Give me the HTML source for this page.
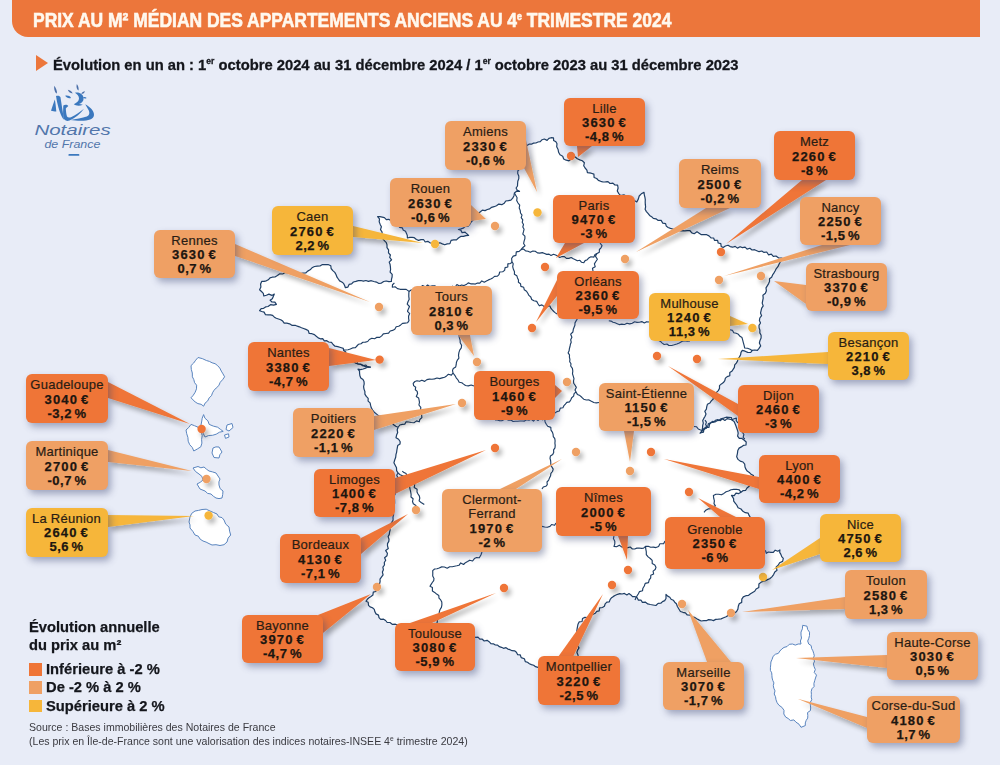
<!DOCTYPE html>
<html><head><meta charset="utf-8">
<style>
*{margin:0;padding:0;box-sizing:border-box}
html,body{width:1000px;height:765px;overflow:hidden;background:#e8ecf7;font-family:"Liberation Sans",sans-serif}
#hdr{position:absolute;left:12px;top:0;width:968px;height:37px;background:#ec763b;border-bottom-left-radius:16px}
#hdr span{position:absolute;left:21.3px;top:7.8px;font-weight:bold;font-size:20px;color:#fff8ee;-webkit-text-stroke:0.6px #fff8ee;white-space:nowrap;transform-origin:0 0;transform:scaleX(0.873);line-height:24px}
#sub{position:absolute;left:53px;top:54.8px;font-weight:bold;font-size:15.5px;color:#14161c;-webkit-text-stroke:0.3px #14161c;white-space:nowrap;transform-origin:0 0;transform:scaleX(0.952);line-height:20px}
#tri{position:absolute;left:35.8px;top:54.8px;width:0;height:0;border-top:8.7px solid transparent;border-bottom:8.7px solid transparent;border-left:12.3px solid #ec763b}
svg{position:absolute;left:0;top:0}
.lb{position:absolute;border-radius:6px;box-shadow:3px 4px 7px rgba(60,70,115,.42);text-align:center;color:#1d1610;display:flex;flex-direction:column;justify-content:center;padding-top:2.2px}
.lb.d{background:#ef7537} .lb.l{background:#efa064} .lb.y{background:#f6b63a}
.lb .n{font-size:13px;line-height:14.2px;letter-spacing:0.25px;color:#2a1d14;height:14.2px;-webkit-text-stroke:0.2px #2a1d14}
.lb .q{letter-spacing:0.55px !important}
.lb .p{font-size:13px;line-height:14.2px;font-weight:bold;letter-spacing:1.15px;word-spacing:-1.8px;height:14.2px;-webkit-text-stroke:0.25px #1d1610}
#leg{position:absolute;left:29px;top:618.2px;font-weight:bold;font-size:15px;line-height:18px;color:#14161c;-webkit-text-stroke:0.25px #14161c;transform-origin:0 0;transform:scaleX(0.98)}
.sw{position:absolute;left:28.5px;width:13.5px;height:12.5px}
.lt{position:absolute;left:46px;font-weight:bold;font-size:15.5px;color:#14161c;-webkit-text-stroke:0.25px #14161c;white-space:nowrap;line-height:18px;transform-origin:0 0;transform:scaleX(0.95)}
#src{position:absolute;left:29px;top:721.3px;font-size:11px;line-height:13.6px;color:#3a3a40;white-space:nowrap;transform-origin:0 0;transform:scaleX(0.96)}
</style></head><body>
<div id="hdr"><span>PRIX AU M² MÉDIAN DES APPARTEMENTS ANCIENS AU 4<sup style="font-size:10px;vertical-align:7px;line-height:0">e</sup> TRIMESTRE 2024</span></div>
<div id="tri"></div>
<div id="sub">Évolution en un an : 1<sup style="font-size:9px;vertical-align:6px;line-height:0">er</sup> octobre 2024 au 31 décembre 2024 / 1<sup style="font-size:9px;vertical-align:6px;line-height:0">er</sup> octobre 2023 au 31 décembre 2023</div>
<svg width="90" height="80" viewBox="0 0 90 80" style="left:25px;top:80px">
<g fill="#3b78be">
<path d="M29.2,5.8 C31,8 32.2,11 31.9,13.6 C30.2,13 28.9,10 29.2,5.8Z" fill="#4a6ea8"/>
<path d="M31,16 C33,15.2 35,15.8 35.5,17.5 L39,39.8 C37.2,38.5 35,33 33.6,28 C32.5,24 31.5,20 31,16Z"/>
<path d="M29.8,19.5 C30.5,23 31,27.5 31.3,31.6 C29.5,31.6 27.5,31.2 26,30.8 C27.3,27 28.5,23 29.8,19.5Z"/>
<path d="M51.8,4 C53.3,6 54,8.5 53.5,10.6 C51.8,9.6 51,7 51.8,4Z" fill="#4a6ea8"/>
<path d="M42.8,9.8 C45,10 47,11.5 47.6,13.4 C45.5,13.4 43.6,12 42.8,9.8Z" fill="#4a6ea8"/>
<path d="M56.2,13.8 C57,12 58.5,11.2 60,11.2 C59.5,13 58,14 56.2,13.8Z" fill="#4a6ea8"/>
<path d="M40.2,15.8 C42.5,15.2 45,16 46,18 C43.8,18.8 41.5,18 40.2,15.8Z"/>
<path d="M58,17.3 C59.2,16.6 60.8,16.8 61.6,18 C60.5,18.9 59,18.8 58,17.3Z"/>
<path d="M50,12.8 C54.5,11.8 58.5,14.5 58.6,18.6 C58.6,21.5 56.5,23.2 54,24 C55.2,24.2 56.6,24.4 57.8,24.8 C54,26.3 50.5,25.6 48.8,24.2 C51.8,22.8 54,21.2 54,18.6 C54,16.2 52.3,14.2 50,12.8Z"/>
<path d="M38.3,25.6 C39.8,24.3 42.3,24.4 43.3,25.9 C42.3,26.8 41.3,27.5 40.8,28.5 C41,31.5 41.3,34.5 42,36.5 C43,38 44.5,37.8 46.5,37 C51,35 55,32 59,28.8 C55.5,33.5 50.5,38 44.5,40.5 C41,41.7 38.8,40 38.3,36.8 C37.9,33 38.2,29 38.3,25.6Z"/>
<path d="M60.2,24.2 C65,26.8 69.3,30.8 69,35 C68.7,39.2 63.5,40.8 56,40.8 C52,40.8 48.5,40.5 45.5,40 C50.5,39 57.5,38 61.8,36.5 C64.5,35.5 64.8,33 63.8,30.6 C62.8,28.5 61.5,26.3 60.2,24.2Z"/>
</g>
<text x="9.4" y="55.4" font-family="Liberation Sans" font-style="italic" font-size="15" fill="#5276ab" textLength="76.4" lengthAdjust="spacingAndGlyphs">Notaires</text>
<text x="19.4" y="67.5" font-family="Liberation Sans" font-style="italic" font-size="10.2" fill="#5276ab" textLength="56" lengthAdjust="spacingAndGlyphs">de France</text>
<rect x="43.4" y="74" width="11" height="1.8" rx="0.9" fill="#3b78be"/>
</svg>
<svg width="1000" height="765" viewBox="0 0 1000 765">
<defs><filter id="sh" x="-20%" y="-20%" width="140%" height="140%"><feGaussianBlur in="SourceAlpha" stdDeviation="2.5"/><feOffset dx="3" dy="4"/><feComponentTransfer><feFuncA type="linear" slope="0.3"/></feComponentTransfer><feMerge><feMergeNode/><feMergeNode in="SourceGraphic"/></feMerge></filter></defs>
<polygon points="527.0,145.5 529.0,144.2 531.4,144.2 533.5,143.1 535.9,143.0 538.0,142.0 540.3,141.7 542.1,139.7 544.3,139.0 547.1,140.4 548.9,138.4 551.1,137.7 553.5,137.8 553.6,140.4 555.9,141.8 557.0,143.8 556.7,146.8 558.1,149.5 558.6,152.3 560.0,154.8 562.7,156.2 563.7,159.0 566.2,160.2 569.0,160.8 571.8,158.8 573.0,155.7 575.3,157.0 577.3,158.8 579.8,159.9 582.3,160.8 584.4,162.7 583.7,165.8 585.1,168.0 586.9,170.1 587.4,172.7 591.2,173.2 593.9,174.1 594.1,177.5 596.7,178.5 598.4,180.4 600.7,181.3 603.1,182.0 605.5,181.9 608.0,181.6 610.0,183.5 612.9,183.1 614.9,185.0 617.6,185.2 618.1,188.0 617.3,191.0 618.8,193.6 620.7,195.6 623.9,194.9 626.1,196.0 628.0,198.0 630.5,198.3 631.9,201.1 634.7,200.8 636.8,202.0 638.3,199.1 639.2,196.0 641.3,193.8 644.0,192.4 644.3,194.8 644.9,197.2 645.3,199.6 645.2,202.0 645.3,204.4 645.6,206.8 645.1,209.3 646.4,211.6 648.0,213.4 649.6,215.4 651.6,216.7 653.3,218.4 656.0,218.8 658.2,220.4 661.2,220.4 662.8,223.2 665.6,223.6 666.3,226.1 668.1,227.5 670.4,228.4 672.8,229.0 675.1,229.7 677.7,228.9 679.9,230.9 682.4,230.6 684.8,230.8 687.3,230.6 689.8,230.5 691.8,232.9 694.2,233.7 697.0,231.7 699.2,233.2 701.4,234.7 704.1,234.6 706.7,234.7 709.0,235.9 711.0,237.9 713.6,238.0 714.5,240.3 717.6,240.4 718.2,243.0 720.8,243.6 721.2,246.4 723.2,247.6 725.4,246.0 728.0,245.2 730.2,246.6 732.6,247.2 735.2,246.4 737.4,248.1 740.1,246.7 742.4,247.6 745.1,247.1 747.1,249.1 749.9,248.2 752.0,250.0 754.6,249.7 756.8,250.7 759.1,251.7 761.8,251.0 764.0,252.4 766.7,252.0 768.5,254.8 771.3,254.1 773.3,256.4 776.0,256.0 778.7,258.0 782.0,258.0 781.3,260.3 780.0,262.4 778.9,264.5 777.9,266.7 776.3,268.6 775.2,270.8 774.0,272.9 772.6,274.9 771.6,277.2 769.5,278.8 769.5,281.4 768.6,283.6 767.4,285.6 766.0,287.9 766.4,290.8 765.4,293.3 762.9,295.2 763.2,298.1 762.7,300.6 762.2,303.1 763.2,305.9 761.7,308.2 761.1,310.7 760.5,313.1 761.6,315.7 759.8,318.0 759.4,320.4 760.5,323.0 759.0,325.3 759.1,327.9 759.9,330.3 759.8,332.9 761.1,335.3 761.1,337.9 760.0,340.4 759.4,343.0 760.7,345.9 759.0,348.3 757.4,350.4 754.6,350.0 752.2,350.4 750.7,352.5 747.7,352.4 745.1,351.2 742.3,350.4 741.0,352.4 740.6,354.8 739.5,356.9 738.1,358.8 737.5,361.1 736.3,363.1 734.7,364.9 734.4,367.4 733.1,369.4 731.8,371.3 729.8,372.6 729.8,375.7 727.2,376.6 725.4,378.1 724.8,380.6 723.4,382.6 721.4,383.9 719.5,385.6 719.5,388.4 718.3,390.6 716.5,392.4 715.1,394.4 713.3,396.2 713.2,399.1 711.3,400.9 709.9,403.0 707.4,404.3 706.7,406.9 706.4,409.2 704.8,411.3 706.0,414.0 705.1,416.2 703.8,418.4 702.7,420.6 703.3,423.1 702.7,425.4 702.5,428.2 701.9,430.9 700.1,433.2 701.9,431.5 703.0,429.1 705.9,428.5 707.7,426.8 708.3,423.9 710.6,422.7 712.5,421.4 715.0,421.9 717.0,420.7 719.2,420.3 721.0,418.8 723.6,418.1 726.1,417.2 728.8,417.3 731.5,417.5 731.9,419.9 734.1,421.4 735.0,423.6 735.9,425.8 736.7,428.0 737.6,430.5 738.2,433.1 737.6,436.1 739.3,438.4 741.9,438.4 744.0,440.0 746.2,442.0 746.0,445.0 743.3,445.4 741.3,446.9 739.1,448.1 737.8,450.5 737.4,453.6 736.7,456.7 738.0,459.4 740.2,461.1 743.0,462.0 744.7,464.2 745.0,467.0 745.9,469.2 747.2,471.1 749.3,472.4 751.1,474.3 753.5,475.6 752.9,478.2 752.4,480.8 751.5,482.9 750.0,484.6 748.9,486.6 747.0,488.0 745.7,490.3 742.9,490.7 741.0,492.3 738.8,493.6 736.0,493.1 734.2,495.7 731.5,495.4 733.6,498.6 733.7,501.2 735.2,503.1 736.7,505.0 738.1,507.8 741.0,509.0 742.9,511.3 745.3,512.7 748.2,513.2 749.1,515.4 750.3,517.4 752.4,519.1 751.6,522.1 754.0,523.7 754.6,526.0 754.7,528.6 756.0,530.6 757.2,532.7 758.0,535.0 757.9,537.5 759.6,539.2 761.1,540.9 762.3,542.9 761.8,545.6 763.6,547.2 763.8,549.5 765.7,551.1 766.3,553.3 768.4,552.0 770.9,552.3 773.3,552.4 775.2,550.2 777.8,551.2 779.9,549.9 779.7,552.4 780.9,554.4 781.7,556.6 783.3,558.4 782.6,561.4 779.6,562.7 778.2,565.2 776.2,567.0 777.0,570.3 774.8,572.0 773.6,574.6 771.9,576.9 769.7,578.8 767.5,579.6 765.5,580.6 763.4,581.3 761.2,582.1 758.9,584.0 758.8,587.5 756.1,589.0 754.7,591.3 752.6,592.5 750.5,593.8 748.6,595.3 745.9,595.7 743.3,596.9 741.8,599.1 741.7,602.4 739.2,603.7 738.3,606.3 737.9,609.1 736.6,611.5 734.7,613.0 732.6,614.0 730.1,614.3 728.1,615.5 726.1,616.8 723.6,617.8 721.1,618.9 718.4,619.2 715.7,619.4 713.4,620.6 711.0,619.8 708.6,619.6 706.3,620.7 703.9,620.7 701.2,621.0 698.9,619.9 696.7,618.7 694.5,617.3 692.1,616.8 690.1,615.1 687.3,615.0 685.4,612.9 682.9,612.3 680.4,611.5 678.9,609.0 677.4,606.5 676.4,603.7 674.7,602.2 673.3,600.2 671.1,599.3 669.8,597.2 667.7,596.1 666.0,594.5 666.0,598.5 664.7,600.6 662.5,601.6 660.8,603.2 658.1,603.3 655.9,605.5 653.0,605.0 650.3,604.5 647.7,603.9 645.3,602.1 642.4,602.4 641.1,600.2 638.4,600.2 637.2,597.8 635.2,596.7 632.5,596.6 630.9,594.9 629.0,593.6 626.9,594.9 624.4,593.4 622.1,594.0 619.8,593.7 617.6,594.3 615.4,595.3 613.4,596.4 611.6,597.7 610.2,599.4 609.3,601.8 606.8,602.2 605.2,603.8 604.4,606.3 602.4,607.5 599.6,607.8 599.2,610.8 596.7,611.4 595.2,613.3 593.2,614.3 590.3,613.5 589.1,616.1 587.3,617.5 584.8,617.4 582.5,618.5 582.1,621.5 579.1,621.9 578.0,624.2 577.5,626.6 577.1,628.9 576.8,631.3 577.8,633.7 577.2,636.0 579.2,638.4 577.3,640.8 578.0,643.2 577.4,645.5 579.0,647.9 577.4,650.3 576.9,652.6 578.0,655.0 578.3,657.5 576.9,659.4 575.6,661.3 574.2,663.2 574.9,665.8 574.3,668.0 573.4,670.1 572.0,672.0 569.8,672.0 567.5,671.9 565.4,673.2 563.2,673.5 561.0,673.8 558.9,674.2 556.6,674.3 554.5,675.5 552.2,674.7 550.0,675.0 548.5,672.7 545.7,672.8 544.1,670.9 541.3,671.0 539.9,668.6 537.9,667.3 535.5,666.7 533.7,665.3 531.4,664.6 529.4,663.7 527.5,662.3 525.3,661.6 524.4,658.7 521.2,657.6 520.2,654.8 517.7,654.7 516.4,652.2 514.6,650.8 512.1,650.7 510.0,649.7 507.9,649.1 506.0,647.7 503.5,648.3 501.5,647.3 499.4,646.7 497.6,645.1 495.3,645.0 493.4,643.8 490.9,643.6 489.1,641.7 487.1,640.3 484.2,641.0 482.3,639.2 479.8,639.1 478.0,637.2 475.4,637.3 473.2,636.6 470.9,637.0 468.6,636.7 466.3,636.7 464.3,635.1 462.1,634.9 459.7,634.9 457.6,634.0 455.4,633.6 453.4,632.0 450.9,633.2 449.1,630.6 446.6,631.4 444.5,630.7 442.2,630.5 440.0,630.0 437.9,628.8 435.6,628.6 433.3,629.0 431.1,628.9 428.9,628.0 426.7,627.3 424.4,628.2 422.2,627.1 420.1,626.2 417.7,627.2 415.4,627.5 413.2,627.2 411.1,625.7 408.8,625.5 406.7,624.5 404.4,624.4 402.0,625.7 399.8,625.6 397.5,625.1 395.4,624.2 392.5,624.4 390.0,622.5 387.2,622.5 385.6,620.5 383.6,619.2 380.7,619.4 379.0,617.6 378.5,615.1 376.0,613.9 374.9,611.8 374.3,609.4 372.5,607.8 370.1,606.9 368.5,605.3 368.2,602.3 366.0,601.3 367.3,599.3 369.0,597.8 371.0,596.5 372.9,595.1 373.3,592.2 375.8,591.5 376.6,588.8 378.1,586.4 379.5,584.0 380.1,581.6 380.0,579.1 381.6,576.9 383.1,574.8 382.4,572.1 383.4,569.8 382.9,567.1 384.5,565.0 384.3,562.5 385.7,560.3 384.6,557.7 387.0,555.7 387.4,553.3 385.7,550.6 388.3,548.6 387.5,546.0 387.5,543.6 388.8,541.4 389.0,539.1 388.1,536.6 389.3,534.4 389.6,532.0 390.2,529.8 389.1,527.3 390.0,525.0 391.6,522.6 393.1,520.1 393.0,517.0 393.6,514.8 393.4,512.5 392.5,510.2 393.7,508.0 393.4,505.7 394.6,503.5 394.6,501.3 394.5,499.0 393.7,496.7 395.0,494.5 395.2,492.3 395.0,490.0 394.6,487.4 396.9,485.3 396.7,482.8 395.7,480.1 398.2,478.1 396.7,475.3 398.0,473.0 396.6,470.6 396.5,467.7 395.2,465.3 393.9,462.8 394.7,460.0 395.7,457.3 396.0,454.4 396.6,452.3 396.9,450.0 397.3,447.8 397.7,445.6 400.0,444.1 400.2,441.8 398.6,439.3 396.0,437.7 396.6,435.1 397.7,432.6 397.2,429.8 398.1,427.2 395.7,426.3 393.7,424.7 391.8,423.0 390.2,421.0 387.0,421.6 385.5,419.4 383.1,418.8 381.7,416.4 379.1,416.1 377.2,414.6 374.6,412.6 372.6,410.0 371.3,407.8 370.6,405.4 370.1,402.9 368.1,401.1 368.2,398.3 366.3,396.4 364.9,394.1 364.9,391.5 364.0,389.1 363.6,386.6 364.2,383.9 364.0,381.5 363.0,379.5 360.8,377.9 359.9,375.8 359.6,373.5 359.5,371.1 358.0,369.2 360.6,369.6 363.1,369.0 365.5,368.2 367.9,366.7 370.5,367.2 367.9,366.8 365.3,366.7 363.0,365.2 360.5,364.5 358.0,364.0 355.7,363.3 354.0,361.8 353.0,359.4 350.1,359.6 349.5,356.7 347.8,355.1 345.4,354.6 345.8,352.1 343.7,350.5 343.3,348.3 340.6,347.5 337.8,346.7 335.0,346.2 333.1,344.5 331.5,342.4 328.7,342.0 326.8,340.7 324.3,340.8 322.7,338.7 320.3,338.8 318.2,337.9 316.3,336.3 314.4,334.6 312.0,333.7 309.2,333.5 308.2,330.5 305.9,329.4 303.6,328.5 301.5,327.7 299.4,326.8 297.3,326.2 295.2,325.3 292.2,325.4 289.6,323.8 286.8,323.2 284.2,323.2 282.7,321.1 280.7,319.7 278.5,319.0 276.3,318.3 274.4,317.2 272.6,315.4 270.5,314.8 268.0,314.9 265.5,314.7 264.1,312.1 261.8,311.5 259.6,310.7 261.2,308.6 263.6,308.3 265.6,306.9 268.0,306.5 270.5,304.7 273.6,305.2 276.4,304.4 274.9,302.1 271.9,302.0 270.1,300.2 272.3,298.7 273.3,296.4 274.3,294.0 271.9,295.4 268.9,294.1 266.4,295.2 263.8,296.0 263.3,293.3 261.5,291.5 259.6,289.7 260.9,287.1 260.6,284.1 261.7,281.4 264.1,281.3 266.3,280.8 268.3,279.8 270.0,277.9 272.2,277.2 275.0,277.0 277.4,275.6 279.8,273.8 282.7,274.0 285.1,272.6 287.5,272.6 289.9,272.7 292.4,272.5 294.9,273.2 297.3,273.0 300.1,273.5 302.9,273.1 305.7,273.0 307.7,271.1 310.1,269.8 312.0,267.8 314.5,266.5 317.2,266.1 320.0,266.0 322.4,264.6 325.2,264.7 328.1,264.5 330.8,265.7 331.1,268.5 332.8,270.6 334.8,272.4 336.1,274.7 337.0,277.2 338.3,279.0 339.6,280.9 341.8,282.0 343.6,283.4 344.6,285.5 345.4,287.7 347.9,287.1 349.1,284.4 351.6,283.8 353.4,282.0 355.9,281.4 358.4,280.6 360.9,280.5 363.4,281.1 365.9,280.5 368.4,281.4 371.3,280.7 373.8,281.5 376.4,282.1 378.9,283.5 381.4,283.1 383.7,281.5 386.2,281.0 388.9,281.7 391.4,281.4 391.5,279.2 392.1,277.0 392.2,274.4 390.1,272.1 390.6,269.5 390.4,266.9 390.1,264.5 389.2,262.1 391.6,259.8 389.7,257.4 390.4,255.0 388.5,252.8 388.6,249.9 387.0,247.6 387.0,244.8 386.3,242.6 384.6,240.9 383.1,239.1 381.9,237.2 381.9,234.6 382.1,232.0 380.5,229.6 381.4,226.8 380.2,224.4 379.2,221.9 379.5,218.9 377.6,216.7 379.9,216.7 382.2,217.1 384.4,217.7 386.3,219.6 388.7,219.3 390.7,220.5 393.1,220.7 395.0,222.0 397.5,222.6 398.4,225.3 399.7,227.3 402.3,227.8 403.1,229.9 405.5,231.3 406.5,233.4 407.3,235.5 407.4,238.0 409.8,237.4 412.1,237.4 414.3,237.7 416.4,239.5 418.6,240.4 421.0,239.7 423.5,239.5 425.2,242.0 427.8,241.3 429.9,242.7 432.1,243.5 434.6,243.0 437.0,244.6 439.9,242.7 442.3,243.9 444.8,244.8 447.2,243.9 449.9,243.6 451.1,240.4 453.6,239.8 456.5,239.9 458.4,238.0 460.7,236.4 463.4,236.4 465.9,235.6 468.6,235.4 466.8,233.8 465.1,232.1 462.1,232.6 460.8,230.1 458.4,229.5 461.0,228.9 463.4,228.1 465.4,226.3 468.2,226.1 470.0,224.0 471.2,222.0 472.8,220.4 473.9,218.3 476.5,217.5 477.4,215.3 478.5,213.2 480.4,211.8 482.4,210.1 485.1,210.6 487.3,209.5 489.7,208.9 491.6,207.3 494.0,206.7 496.5,205.8 498.8,204.1 501.8,204.7 504.2,203.3 505.7,201.0 508.4,200.7 510.9,200.1 512.7,198.2 514.0,195.7 514.4,193.0 516.6,191.2 519.5,191.4 517.3,190.2 516.1,188.0 517.5,186.0 517.6,183.6 517.8,181.2 518.8,178.6 518.8,176.1 517.7,173.6 517.8,171.0 519.5,169.2 519.9,167.0 519.7,164.5 520.5,162.4 520.6,160.0 522.2,158.2 524.3,156.5 523.0,153.7 524.9,151.9 524.5,149.4 525.2,147.3 527.0,145.5" fill="#fff" stroke="#1f3f66" stroke-width="1.2" stroke-linejoin="round"/>
<g fill="none" stroke="#1f3f66" stroke-width="1.15" stroke-linejoin="round"><polyline points="514.4,193.0 515.7,195.3 517.1,197.7 516.7,200.6 518.0,203.0 519.7,205.2 519.2,208.0 520.2,210.4 520.5,213.0 522.0,215.1 521.2,217.7 522.8,219.8 522.2,222.3 523.5,224.5 522.8,227.0 524.1,229.2 523.5,231.7 522.8,234.1 524.9,236.2 524.9,238.6 524.1,241.1 523.6,243.5 525.0,245.7 522.9,247.5 521.0,249.6 519.2,251.4 516.3,251.9 515.9,255.4 513.2,256.1 511.6,258.5 511.9,261.4"/><polyline points="511.9,261.4 510.8,263.5 507.8,263.9 507.8,267.0 505.1,267.6 504.6,270.4 502.7,271.8 499.7,272.0 499.0,274.6 497.2,276.3 494.6,276.4 492.7,277.9 490.7,279.0 488.5,279.9 486.4,281.0 484.3,282.2 481.8,280.9 479.8,283.1 477.5,283.1 475.3,284.1 473.0,283.8 470.7,283.8 468.2,282.9 466.2,284.6 464.0,285.6 461.6,285.0 459.4,286.0 456.9,284.5 455.0,287.3 452.5,286.2 450.3,287.2 447.9,286.9 445.8,288.1 443.4,287.5 441.2,288.4 438.9,287.8 436.8,286.9 434.7,285.7 432.2,285.9 429.6,286.5 427.6,285.0 425.6,286.9 422.6,285.5 420.6,287.4 418.6,289.0 415.6,287.9 413.6,289.6 411.1,290.0 409.0,291.4 406.2,289.4 402.8,289.3 400.1,289.3 397.5,288.6 395.1,286.8 392.3,287.2 392.5,284.7 394.4,283.0"/><polyline points="409.0,291.4 408.8,294.0 408.8,296.6 409.2,299.3 408.0,301.8 407.2,304.2 409.5,306.5 408.4,308.9 407.5,311.3 409.7,313.6 408.6,316.0 408.6,318.4 409.0,320.7 407.5,322.8 405.0,323.1 402.5,323.4 400.7,324.9 398.7,326.2 396.2,326.8 394.8,329.3 392.6,330.4 390.2,331.0 388.6,333.1 386.0,333.5 383.3,333.9 381.7,335.9 379.7,337.4 377.0,337.2 374.6,338.7 371.8,338.3 369.3,339.5 367.7,341.5 365.4,342.1 362.9,342.2 361.0,343.7 358.6,344.2 356.9,346.0 355.2,347.8 352.6,347.9 350.3,349.0 348.0,349.7 345.5,350.0 343.0,350.0"/><polyline points="459.0,335.0 459.3,337.6 460.1,340.1 460.2,342.8 461.6,345.2 461.3,347.9 459.7,350.1 458.9,352.6 458.5,355.3 458.9,358.2 457.2,360.4 456.4,362.5 456.2,364.7 455.7,366.9 453.3,368.4 452.5,370.5 453.0,373.0 451.4,375.1 448.4,374.3 446.6,375.9 444.6,377.2 442.1,377.9 439.6,378.6 437.0,378.0 434.5,378.9 432.0,379.2 429.4,379.1 426.9,379.6 424.7,381.4 421.9,380.2 419.5,381.3 417.0,380.8 414.9,381.5 413.2,383.4 413.6,385.6 415.7,387.2 415.3,389.7 417.2,391.4 417.6,393.6 416.3,396.4 418.6,397.9 419.1,400.1 419.5,402.3 418.9,405.0 420.8,407.3 420.6,409.9 421.3,412.4 421.6,415.0 421.9,417.6 419.8,419.5 419.2,421.8 416.6,420.9 414.0,422.7 411.3,422.5 408.7,422.0 406.1,421.8 404.8,424.1 402.2,424.4 399.8,425.0 398.3,427.0"/><polyline points="453.0,373.0 454.8,375.3 456.2,377.8 458.0,380.0 459.2,382.3 461.8,382.7 463.6,384.1 465.5,385.5 468.3,385.9 471.2,385.0 474.0,386.0"/><polyline points="495.0,420.0 497.3,420.0 499.5,420.6 501.8,420.7 504.1,419.4 506.4,419.2 508.6,420.2 510.9,420.0 513.1,421.5 515.4,421.3 517.7,421.2 520.0,421.0 522.3,421.0 524.5,421.1 526.7,419.6 529.0,420.2 531.2,419.3 533.5,421.1 535.6,418.7 538.0,420.5 540.1,418.4 542.5,419.8 544.7,419.2"/><polyline points="511.9,261.4 513.2,263.8 512.7,266.7 513.4,269.3 514.5,271.8 514.4,274.2 516.8,275.7 517.5,277.9 518.5,279.9 518.4,282.3 520.5,283.7 520.9,286.4 523.7,287.3 524.3,289.8 526.5,291.2 527.8,293.2 528.9,295.4 530.8,297.0 531.7,299.5 533.9,300.8 536.7,301.4 538.0,303.7 539.3,305.8 541.9,304.9 544.5,306.8 547.2,306.6 549.8,305.8 551.0,308.4 552.8,310.5 554.7,312.4 557.0,314.0"/><polyline points="521.0,249.6 523.5,249.0 525.6,250.9 528.0,251.2 530.3,252.3 532.9,251.0 535.3,251.3 537.4,252.9 539.8,253.1 542.3,252.6 544.6,253.5 546.7,254.4 549.0,254.1 551.0,255.5 553.5,254.3 555.6,255.0 557.6,256.1 559.7,257.5 562.1,256.5 564.4,256.6 566.4,258.4 568.8,258.4 571.2,257.5 573.3,258.8 575.4,259.7 577.4,260.8 579.9,260.3 581.6,262.3 583.8,262.7 585.1,260.6 587.3,259.7 588.8,257.9 590.9,256.8 593.9,257.1 595.0,254.6 597.0,253.5 599.3,252.2 599.4,249.5 601.0,247.8 602.0,245.7 600.0,243.0"/><polyline points="597.0,253.5 595.4,256.1 597.4,259.2 595.7,261.8 594.4,263.9 595.2,266.7 592.5,268.3 593.0,271.0"/><polyline points="608.8,320.7 611.0,321.1 613.0,322.2 615.1,322.8 617.2,323.7 619.2,324.6 621.8,324.1 624.5,324.5 627.0,323.2 629.7,323.9 632.3,323.3 634.6,321.8 637.0,322.4 639.4,322.3 641.8,321.6 644.3,323.0 646.6,321.7 649.0,322.0"/><polyline points="655.0,340.0 658.4,340.3 660.5,341.4 662.2,343.1 664.2,344.5 667.0,344.0 668.9,345.5 671.7,345.5 674.2,344.8 676.8,344.0 679.3,343.0 681.8,341.5 684.4,340.8 687.3,341.2 690.0,341.0"/><polyline points="730.0,329.8 732.5,330.4 733.8,332.8 736.2,333.3 738.4,334.3 740.0,336.3 742.0,337.6 742.7,340.2 743.4,342.8 744.1,345.4 744.7,348.0 747.5,348.3 750.1,349.2 752.5,350.7"/><polyline points="577.3,319.0 576.1,320.9 575.0,322.9 574.9,325.2 574.1,327.2 573.3,329.3 572.9,332.0 570.7,334.2 571.9,337.3 570.7,339.8 571.2,342.2 570.4,344.3 570.0,346.5 569.4,348.6 569.1,350.8 568.1,352.9 569.5,354.9 569.4,357.2 569.9,359.4 569.7,361.7 571.0,363.7 570.7,366.0 572.4,368.3 572.8,371.0 572.5,373.8 573.3,376.4 574.0,378.6 573.5,381.0 573.7,383.2 575.1,385.3 576.3,387.4 575.0,389.9 576.0,392.0 574.1,393.6 573.6,396.1 571.7,397.8 570.7,400.0 569.5,401.9 566.8,402.4 565.4,404.1 563.9,405.7 562.9,407.8 560.3,408.1 559.3,411.0 556.9,411.6 555.0,413.0"/><polyline points="576.0,392.0 577.4,394.4 579.9,395.6 581.8,397.3 583.7,399.2 586.4,400.0 589.0,399.9 591.4,401.3 593.8,402.5 596.3,402.9 599.0,402.5"/><polyline points="694.0,426.5 696.6,426.8 698.3,429.0 700.6,430.0 703.0,430.7 705.0,428.6 707.0,426.5 705.6,424.6 706.4,422.1 705.0,420.2"/><polyline points="700.9,432.8 703.5,432.1 703.9,428.9 705.6,427.1 709.0,427.5 709.5,424.3 711.2,422.6 713.9,422.1 715.5,420.2 717.8,419.6 720.2,420.7 722.4,418.8 724.9,420.5 727.1,418.6 729.5,419.1 731.9,419.7 734.1,418.8 736.4,418.1 736.2,420.6 737.6,422.5 740.0,424.0 738.8,426.9 740.6,428.6 741.2,430.8 742.7,432.6 743.9,434.5 743.1,437.3 744.8,439.0"/><polyline points="544.7,419.2 545.1,421.9 546.3,424.2 547.7,426.3 550.8,427.4 551.0,430.2 552.5,432.3 553.1,434.4 553.3,436.7 554.8,438.7 555.1,440.9 554.9,443.2 555.2,445.4 555.0,447.8 553.6,449.8 553.7,452.4 552.7,454.5 550.4,456.0 550.0,458.4 550.6,460.5 550.8,462.8 550.7,465.1 552.0,467.1 553.2,469.1 552.5,471.5 550.9,473.4 550.6,475.8 549.5,477.9 548.7,480.1 547.0,482.0 547.3,484.6 545.8,486.3 543.3,487.0 542.0,489.0"/><polyline points="542.0,526.4 544.7,527.0 547.3,527.3 550.0,526.4 551.6,524.5 554.6,525.3 556.0,523.0"/><polyline points="482.0,552.0 480.9,555.0 479.3,557.8 476.6,557.6 474.4,558.6 472.6,561.0 469.7,560.2 467.6,561.5 465.4,562.7 463.6,564.5 460.7,562.9 459.0,565.3 456.8,565.8 454.5,566.2 452.3,566.7 449.7,566.7 447.2,568.2 444.4,567.0 441.7,566.9 439.2,568.0 437.0,568.8 434.6,569.0 432.7,570.6 432.8,573.3 432.7,575.9 434.0,578.4 433.7,580.7 432.3,582.5 431.1,584.4 430.0,586.3 432.4,587.6 432.4,591.0 434.7,592.4 436.6,594.1 438.8,595.5 439.0,598.2 440.7,599.9 441.8,602.0 441.9,604.8 441.4,607.4 439.9,609.8 439.2,612.4 439.7,615.3 437.9,617.7 437.5,620.3 437.0,623.0"/><polyline points="614.0,536.0 613.4,538.6 614.8,541.2 614.8,543.8 614.0,546.4 616.6,546.7 619.3,545.2 622.0,547.1 624.6,546.4 627.0,547.9 630.2,547.0 632.4,549.0 634.7,549.0 636.8,548.1 639.0,548.0 641.4,548.4 643.6,548.1 645.5,546.4 648.1,546.2 650.7,547.3 653.4,547.1 656.0,547.6 658.6,546.4 659.9,543.7 663.6,543.7 665.0,541.0"/><polyline points="645.5,546.4 645.8,549.1 646.3,551.8 646.3,554.6 648.1,556.9 650.3,558.5 652.2,560.4 652.2,563.6 654.8,565.0 656.0,567.3 655.2,569.5 653.1,571.1 653.6,574.0 650.8,575.2 650.7,577.8 649.2,579.9 648.5,582.6 645.2,583.4 644.3,586.0 642.9,588.2 642.5,590.8 639.5,591.6 638.4,593.7 637.1,595.7 636.0,597.8 635.0,600.0"/><polyline points="704.0,512.3 705.8,510.2 708.1,508.9 711.0,508.7 712.8,506.5 715.5,506.0 714.0,503.6 714.4,500.8 713.7,498.2 713.4,495.5 715.9,494.2 718.6,494.2 721.4,494.8 723.9,493.4 726.1,491.7 728.6,491.0 731.0,489.7 733.7,489.4 736.4,489.2 739.3,489.9 741.0,492.3"/><polyline points="402.3,471.1 404.0,472.6 406.1,473.6 407.0,476.0 409.6,476.3 411.0,478.1 412.8,479.5 414.0,481.9 414.7,484.4 414.2,487.4 417.1,489.2 417.0,492.0 418.0,494.0 419.3,495.9 419.8,498.2 419.1,500.9 421.1,502.5 424.3,504.6"/><polyline points="398.0,473.0 400.1,474.7 402.6,475.8 405.1,476.9 406.5,479.5 407.0,482.1 408.9,484.3 409.6,486.8 410.1,489.4 410.7,492.0 411.1,494.4 411.0,497.0 413.1,498.8 412.5,501.5 413.3,503.8 415.9,505.5 416.0,508.0"/><polyline points="345.4,354.6 348.0,354.9 349.6,356.5 351.0,358.4 352.3,360.4 355.0,360.6 356.8,361.8 358.0,364.0 360.7,364.0 362.8,365.9 365.7,365.0 367.8,367.2 370.5,367.2"/></g>
<g fill="#fff" stroke="#5a85bf" stroke-width="1" stroke-linejoin="round"><polygon points="198.0,357.5 195.7,360.2 193.6,363.1 191.0,365.6 191.3,369.4 192.3,373.0 192.4,376.8 193.8,379.6 194.6,382.7 196.6,385.2 196.5,388.8 195.2,392.2 193.3,395.2 191.0,397.8 195.2,402.0 197.9,403.6 201.1,404.3 203.6,406.2 205.1,403.1 207.7,400.9 209.2,397.8 211.5,395.7 212.5,392.8 214.1,390.2 216.2,388.0 218.8,385.6 220.2,382.3 222.6,379.7 224.6,376.8 223.0,373.9 221.3,371.1 219.8,368.1 217.6,365.6 215.1,363.7 212.1,362.8 209.4,361.4 206.4,360.5 202.3,358.6 198.0,357.5"/><polygon points="191.0,424.4 188.8,427.4 186.0,430.0 186.7,433.7 187.9,437.4 188.2,441.2 189.7,444.7 192.3,447.5 193.8,451.0 197.3,449.0 200.8,446.8 201.9,443.1 201.6,439.3 202.2,435.6 201.4,432.5 199.7,429.9 198.0,427.2 194.5,425.7 191.0,424.4"/><polygon points="203.6,414.6 204.9,418.2 207.9,420.8 209.2,424.4 213.3,426.1 217.6,427.2 220.4,429.3 223.2,431.4 219.5,432.2 216.2,434.2 212.5,435.3 208.6,435.5 205.0,437.0 203.2,433.4 202.8,429.3 200.8,425.8 201.6,422.0 202.2,418.2 203.6,414.6"/><polygon points="227.0,425.0 232.0,423.5 233.0,427.5 229.0,431.0 226.0,429.5 227.0,425.0"/><polygon points="224.5,435.0 228.5,433.8 229.0,437.0 225.5,438.4 224.5,435.0"/><polygon points="213.0,448.0 215.9,446.9 219.0,447.0 222.0,452.0 219.9,454.7 219.0,458.0 214.0,457.5 212.0,453.0 213.0,448.0"/><polygon points="193.0,468.0 198.0,466.5 200.9,467.8 204.0,467.0 206.4,469.1 209.0,471.0 212.5,471.9 216.0,473.0 218.0,476.0 220.0,479.0 218.9,481.9 219.0,485.0 220.1,488.6 223.0,491.0 222.7,494.5 222.0,498.0 219.0,498.6 216.0,498.0 213.3,496.2 211.0,494.0 207.6,493.4 205.0,491.0 200.0,489.0 197.0,484.0 200.2,482.3 203.0,480.0 201.9,476.4 199.0,474.0 195.5,471.5 193.0,468.0"/><polygon points="190.0,517.0 191.7,513.4 195.0,511.0 198.5,510.4 202.0,509.5 206.2,509.2 210.0,511.0 213.5,512.5 217.0,514.0 218.7,516.8 222.0,517.6 224.0,520.0 225.7,524.1 229.0,527.0 229.6,531.1 230.7,535.0 228.1,538.1 227.0,542.0 224.0,544.7 220.0,545.5 216.0,544.7 212.0,545.0 209.0,543.6 206.1,542.1 203.0,541.0 200.2,539.2 198.3,536.2 195.0,535.0 192.8,531.3 190.0,528.0 190.0,524.9 189.0,522.0 190.0,517.0"/><polygon points="802.7,625.3 807.0,626.2 807.6,629.4 809.5,632.2 809.5,635.5 808.8,638.3 807.7,641.0 808.7,644.0 811.2,645.6 811.6,648.5 812.9,650.8 813.7,653.3 814.3,655.8 813.1,658.6 814.6,661.0 813.4,663.9 814.1,666.7 815.3,669.5 814.2,672.4 816.5,675.1 815.5,678.0 814.7,680.7 813.9,683.5 814.1,686.5 811.9,688.8 811.2,691.6 811.4,694.3 811.2,697.1 811.8,699.8 810.1,702.5 810.4,705.2 810.7,708.0 810.4,710.6 807.5,712.6 807.8,715.4 807.7,718.1 806.2,720.4 805.3,722.9 805.3,725.6 801.0,727.3 799.0,724.2 796.0,722.2 793.9,719.9 790.4,720.5 788.2,718.5 785.7,717.1 783.8,714.0 784.0,710.3 781.9,707.3 778.9,705.2 777.1,702.7 776.0,699.8 775.5,696.7 774.2,694.0 775.0,690.9 773.8,688.2 773.3,685.7 773.9,682.9 772.8,680.5 772.1,678.0 771.9,675.4 771.7,672.8 770.4,670.4 770.4,667.8 770.7,664.9 770.9,662.0 772.1,659.3 773.1,656.3 775.5,654.2 778.3,653.4 779.9,651.0 781.8,649.0 784.0,647.4 787.0,646.6 789.3,644.3 792.5,644.0 795.3,645.1 798.2,644.0 801.0,644.0 800.4,641.0 801.5,638.0 801.0,635.1 801.0,632.1 802.4,628.8 802.7,625.3"/></g>
<g filter="url(#sh)"><polygon points="577.0,146.0 592.0,146.0 578.0,157.0" fill="#ef7537"/><polygon points="526.0,140.0 524.0,168.0 537.0,192.0" fill="#efa064"/><polygon points="471.0,205.0 471.0,221.0 486.0,219.0" fill="#efa064"/><polygon points="353.0,226.0 353.0,237.0 423.0,243.0" fill="#f6b63a"/><polygon points="235.0,244.0 235.0,256.0 370.0,302.0" fill="#efa064"/><polygon points="458.0,335.0 470.0,335.0 474.0,356.0" fill="#efa064"/><polygon points="329.0,348.0 329.0,366.0 376.0,360.0" fill="#ef7537"/><polygon points="565.0,243.0 584.0,243.0 556.0,258.0" fill="#ef7537"/><polygon points="557.0,280.0 557.0,296.0 536.0,322.0" fill="#ef7537"/><polygon points="706.0,208.0 730.0,208.0 636.0,252.0" fill="#efa064"/><polygon points="802.0,180.0 826.0,180.0 726.0,244.0" fill="#ef7537"/><polygon points="822.0,245.0 850.0,245.0 724.0,276.0" fill="#efa064"/><polygon points="806.0,285.0 806.0,304.0 774.0,281.0" fill="#efa064"/><polygon points="730.0,316.0 730.0,326.0 748.0,324.0" fill="#f6b63a"/><polygon points="828.0,352.0 828.0,364.0 718.0,359.0" fill="#f6b63a"/><polygon points="738.0,404.0 738.0,416.0 668.0,366.0" fill="#ef7537"/><polygon points="624.0,431.0 634.0,431.0 630.0,462.0" fill="#efa064"/><polygon points="759.0,477.0 759.0,489.0 664.0,459.0" fill="#ef7537"/><polygon points="720.0,517.0 736.0,517.0 698.0,498.0" fill="#ef7537"/><polygon points="618.0,536.0 628.0,536.0 627.0,560.0" fill="#ef7537"/><polygon points="820.0,538.0 820.0,554.0 772.0,570.0" fill="#f6b63a"/><polygon points="845.0,597.0 845.0,609.0 742.0,612.0" fill="#efa064"/><polygon points="558.0,657.0 573.0,657.0 603.0,594.0" fill="#ef7537"/><polygon points="707.0,662.0 731.0,662.0 688.0,610.0" fill="#efa064"/><polygon points="887.0,655.0 887.0,668.0 796.0,658.0" fill="#efa064"/><polygon points="867.0,717.0 867.0,728.0 797.5,698.7" fill="#efa064"/><polygon points="410.0,623.0 432.0,623.0 496.0,593.0" fill="#ef7537"/><polygon points="318.0,615.0 323.0,633.0 371.0,594.0" fill="#ef7537"/><polygon points="361.0,538.0 361.0,554.0 408.0,514.0" fill="#ef7537"/><polygon points="395.0,478.0 395.0,494.0 486.0,450.0" fill="#ef7537"/><polygon points="374.0,416.0 374.0,430.0 456.0,404.0" fill="#efa064"/><polygon points="555.0,385.0 555.0,398.0 562.0,391.0" fill="#ef7537"/><polygon points="500.0,489.0 516.0,489.0 562.0,459.0" fill="#efa064"/><polygon points="108.0,382.0 108.0,398.0 190.0,424.0" fill="#ef7537"/><polygon points="108.0,450.0 108.0,462.0 192.0,471.0" fill="#efa064"/><polygon points="108.0,515.0 108.0,527.0 194.0,516.0" fill="#f6b63a"/></g>
<g filter="url(#sh)"><circle cx="571" cy="156" r="4.2" fill="#ef7537"/><circle cx="537.5" cy="212.5" r="4.2" fill="#f6b63a"/><circle cx="495" cy="226" r="4.2" fill="#efa064"/><circle cx="435" cy="244" r="4.2" fill="#f6b63a"/><circle cx="379" cy="307" r="4.2" fill="#efa064"/><circle cx="477" cy="362" r="4.2" fill="#efa064"/><circle cx="379.6" cy="359.6" r="4.2" fill="#ef7537"/><circle cx="545" cy="267" r="4.2" fill="#ef7537"/><circle cx="532" cy="328" r="4.2" fill="#ef7537"/><circle cx="625" cy="259" r="4.2" fill="#efa064"/><circle cx="721" cy="252" r="4.2" fill="#ef7537"/><circle cx="719" cy="280" r="4.2" fill="#efa064"/><circle cx="761" cy="276" r="4.2" fill="#efa064"/><circle cx="752.4" cy="328" r="4.2" fill="#f6b63a"/><circle cx="697" cy="359" r="4.2" fill="#ef7537"/><circle cx="657" cy="356" r="4.2" fill="#ef7537"/><circle cx="630" cy="471" r="4.2" fill="#efa064"/><circle cx="651" cy="452" r="4.2" fill="#ef7537"/><circle cx="689" cy="492" r="4.2" fill="#ef7537"/><circle cx="628" cy="570" r="4.2" fill="#ef7537"/><circle cx="763" cy="577" r="4.2" fill="#f6b63a"/><circle cx="731" cy="613" r="4.2" fill="#efa064"/><circle cx="612" cy="585" r="4.2" fill="#ef7537"/><circle cx="682" cy="604" r="4.2" fill="#efa064"/><circle cx="504" cy="588" r="4.2" fill="#ef7537"/><circle cx="377" cy="587" r="4.2" fill="#efa064"/><circle cx="416" cy="510" r="4.2" fill="#efa064"/><circle cx="495" cy="448" r="4.2" fill="#ef7537"/><circle cx="462" cy="403" r="4.2" fill="#efa064"/><circle cx="567" cy="382" r="4.2" fill="#efa064"/><circle cx="576" cy="452" r="4.2" fill="#efa064"/><circle cx="201.6" cy="429" r="4.2" fill="#ef7537"/><circle cx="206.5" cy="479" r="4.2" fill="#efa064"/><circle cx="208.6" cy="515.5" r="4.2" fill="#f6b63a"/></g>
</svg>
<div class="lb d" style="left:564px;top:98px;width:81px;height:48px"><div class="n">Lille</div><div class="p">3630 €</div><div class="p q">-4,8 %</div></div>
<div class="lb l" style="left:445px;top:121px;width:81px;height:49px"><div class="n">Amiens</div><div class="p">2330 €</div><div class="p q">-0,6 %</div></div>
<div class="lb l" style="left:390px;top:178px;width:81px;height:49px"><div class="n">Rouen</div><div class="p">2630 €</div><div class="p q">-0,6 %</div></div>
<div class="lb y" style="left:272px;top:206px;width:81px;height:49px"><div class="n">Caen</div><div class="p">2760 €</div><div class="p q">2,2 %</div></div>
<div class="lb l" style="left:154px;top:230px;width:81px;height:48px"><div class="n">Rennes</div><div class="p">3630 €</div><div class="p q">0,7 %</div></div>
<div class="lb l" style="left:411px;top:286px;width:81px;height:49px"><div class="n">Tours</div><div class="p">2810 €</div><div class="p q">0,3 %</div></div>
<div class="lb d" style="left:248px;top:342px;width:81px;height:49px"><div class="n">Nantes</div><div class="p">3380 €</div><div class="p q">-4,7 %</div></div>
<div class="lb d" style="left:553px;top:195px;width:82px;height:48px"><div class="n">Paris</div><div class="p">9470 €</div><div class="p q">-3 %</div></div>
<div class="lb d" style="left:557px;top:271px;width:82px;height:48px"><div class="n">Orléans</div><div class="p">2360 €</div><div class="p q">-9,5 %</div></div>
<div class="lb l" style="left:679px;top:159px;width:82px;height:49px"><div class="n">Reims</div><div class="p">2500 €</div><div class="p q">-0,2 %</div></div>
<div class="lb d" style="left:774px;top:131px;width:81px;height:49px"><div class="n">Metz</div><div class="p">2260 €</div><div class="p q">-8 %</div></div>
<div class="lb l" style="left:800px;top:197px;width:81px;height:48px"><div class="n">Nancy</div><div class="p">2250 €</div><div class="p q">-1,5 %</div></div>
<div class="lb l" style="left:806px;top:263px;width:81px;height:48px"><div class="n">Strasbourg</div><div class="p">3370 €</div><div class="p q">-0,9 %</div></div>
<div class="lb y" style="left:649px;top:293px;width:81px;height:48px"><div class="n">Mulhouse</div><div class="p">1240 €</div><div class="p q">11,3 %</div></div>
<div class="lb y" style="left:828px;top:332px;width:81px;height:48px"><div class="n">Besançon</div><div class="p">2210 €</div><div class="p q">3,8 %</div></div>
<div class="lb d" style="left:738px;top:385px;width:81px;height:48px"><div class="n">Dijon</div><div class="p">2460 €</div><div class="p q">-3 %</div></div>
<div class="lb l" style="left:599px;top:383px;width:95px;height:48px"><div class="n">Saint-Étienne</div><div class="p">1150 €</div><div class="p q">-1,5 %</div></div>
<div class="lb d" style="left:759px;top:455px;width:81px;height:48px"><div class="n">Lyon</div><div class="p">4400 €</div><div class="p q">-4,2 %</div></div>
<div class="lb d" style="left:665px;top:517px;width:100px;height:52px"><div class="n">Grenoble</div><div class="p">2350 €</div><div class="p q">-6 %</div></div>
<div class="lb d" style="left:556px;top:487px;width:95px;height:49px"><div class="n">Nîmes</div><div class="p">2000 €</div><div class="p q">-5 %</div></div>
<div class="lb y" style="left:820px;top:514px;width:81px;height:48px"><div class="n">Nice</div><div class="p">4750 €</div><div class="p q">2,6 %</div></div>
<div class="lb l" style="left:845px;top:570px;width:82px;height:49px"><div class="n">Toulon</div><div class="p">2580 €</div><div class="p q">1,3 %</div></div>
<div class="lb d" style="left:538px;top:656px;width:82px;height:49px"><div class="n">Montpellier</div><div class="p">3220 €</div><div class="p q">-2,5 %</div></div>
<div class="lb l" style="left:663px;top:662px;width:81px;height:48px"><div class="n">Marseille</div><div class="p">3070 €</div><div class="p q">-1,7 %</div></div>
<div class="lb l" style="left:887px;top:632px;width:91px;height:48px"><div class="n">Haute-Corse</div><div class="p">3030 €</div><div class="p q">0,5 %</div></div>
<div class="lb l" style="left:867px;top:696px;width:93px;height:47px"><div class="n">Corse-du-Sud</div><div class="p">4180 €</div><div class="p q">1,7 %</div></div>
<div class="lb d" style="left:395px;top:623px;width:80px;height:48px"><div class="n">Toulouse</div><div class="p">3080 €</div><div class="p q">-5,9 %</div></div>
<div class="lb d" style="left:242px;top:615px;width:81px;height:48px"><div class="n">Bayonne</div><div class="p">3970 €</div><div class="p q">-4,7 %</div></div>
<div class="lb d" style="left:280px;top:534px;width:81px;height:49px"><div class="n">Bordeaux</div><div class="p">4130 €</div><div class="p q">-7,1 %</div></div>
<div class="lb d" style="left:314px;top:469px;width:81px;height:48px"><div class="n">Limoges</div><div class="p">1400 €</div><div class="p q">-7,8 %</div></div>
<div class="lb l" style="left:293px;top:408px;width:81px;height:49px"><div class="n">Poitiers</div><div class="p">2220 €</div><div class="p q">-1,1 %</div></div>
<div class="lb d" style="left:474px;top:371px;width:81px;height:49px"><div class="n">Bourges</div><div class="p">1460 €</div><div class="p q">-9 %</div></div>
<div class="lb l" style="left:442px;top:489px;width:100px;height:63px"><div class="n">Clermont-</div><div class="n">Ferrand</div><div class="p">1970 €</div><div class="p q">-2 %</div></div>
<div class="lb d" style="left:26px;top:374px;width:82px;height:49px"><div class="n">Guadeloupe</div><div class="p">3040 €</div><div class="p q">-3,2 %</div></div>
<div class="lb l" style="left:26px;top:441px;width:82px;height:49px"><div class="n">Martinique</div><div class="p">2700 €</div><div class="p q">-0,7 %</div></div>
<div class="lb y" style="left:25.5px;top:507.5px;width:82px;height:49px"><div class="n">La Réunion</div><div class="p">2640 €</div><div class="p q">5,6 %</div></div>
<div id="leg">Évolution annuelle<br>du prix au m²</div>
<div class="sw" style="top:663px;background:#ef7537"></div>
<div class="sw" style="top:681px;background:#efa064"></div>
<div class="sw" style="top:699.5px;background:#f6b63a"></div>
<div class="lt" style="top:660.2px">Inférieure à -2 %</div>
<div class="lt" style="top:678.2px">De -2 % à 2 %</div>
<div class="lt" style="top:696.6px">Supérieure à 2 %</div>
<div id="src">Source : Bases immobilières des Notaires de France<br>(Les prix en Île-de-France sont une valorisation des indices notaires-INSEE 4<sup style="font-size:7px;vertical-align:4px;line-height:0">e</sup> trimestre 2024)</div>
</body></html>
